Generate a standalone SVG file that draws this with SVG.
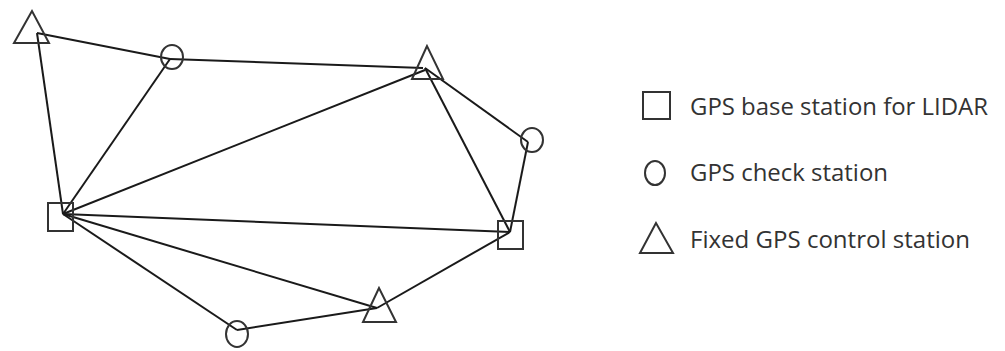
<svg xmlns="http://www.w3.org/2000/svg" width="1005" height="351" viewBox="0 0 1005 351">
<style>
.sym{fill:none;stroke:#333;stroke-width:2}
.edge{stroke:#1a1a1a;stroke-width:2;fill:none}
.lbl{font-family:"Open Sans","Noto Sans",sans-serif;font-size:24px;fill:#333}
</style>
<rect width="1005" height="351" fill="#fff"/>
<g id="connectors">
<line class="edge" x1="37" y1="33" x2="170" y2="59"/>
<line class="edge" x1="37" y1="33" x2="63" y2="214"/>
<line class="edge" x1="170" y1="59" x2="423" y2="68"/>
<line class="edge" x1="170" y1="59" x2="63" y2="214"/>
<line class="edge" x1="63" y1="214" x2="425" y2="70"/>
<line class="edge" x1="425" y1="68" x2="528" y2="142"/>
<line class="edge" x1="425" y1="68" x2="510" y2="232"/>
<line class="edge" x1="528" y1="142" x2="510" y2="232"/>
<line class="edge" x1="63" y1="214" x2="510" y2="232"/>
<line class="edge" x1="63" y1="214" x2="377" y2="308"/>
<line class="edge" x1="63" y1="214" x2="237" y2="330"/>
<line class="edge" x1="237" y1="330" x2="377" y2="308"/>
<line class="edge" x1="377" y1="308" x2="510" y2="232"/>
</g>
<g id="t1"><polygon class="sym" points="32,11 14,43 49,43"/></g>
<g id="c1"><ellipse class="sym" cx="172" cy="57" rx="11" ry="12"/></g>
<g id="t2"><polygon class="sym" points="427,46 412,79 443,79"/></g>
<g id="c3"><ellipse class="sym" cx="532" cy="140" rx="11" ry="12"/></g>
<g id="s1"><rect class="sym" x="48" y="203" width="25" height="28"/></g>
<g id="s2"><rect class="sym" x="498" y="221" width="25" height="28"/></g>
<g id="t3"><polygon class="sym" points="379,288 363,322 396,322"/></g>
<g id="c4"><ellipse class="sym" cx="237" cy="334" rx="11" ry="13"/></g>
<g id="legend-square">
<rect class="sym" x="643" y="92" width="27" height="27"/>
<text class="lbl" x="690" y="115" textLength="298" lengthAdjust="spacingAndGlyphs">GPS base station for LIDAR</text>
</g>
<g id="legend-circle">
<ellipse class="sym" cx="655" cy="173" rx="10" ry="12"/>
<text class="lbl" x="690" y="181" textLength="198" lengthAdjust="spacingAndGlyphs">GPS check station</text>
</g>
<g id="legend-triangle">
<polygon class="sym" points="656,223 640,253 673,253"/>
<text class="lbl" x="690" y="248" textLength="280" lengthAdjust="spacingAndGlyphs">Fixed GPS control station</text>
</g>
</svg>
